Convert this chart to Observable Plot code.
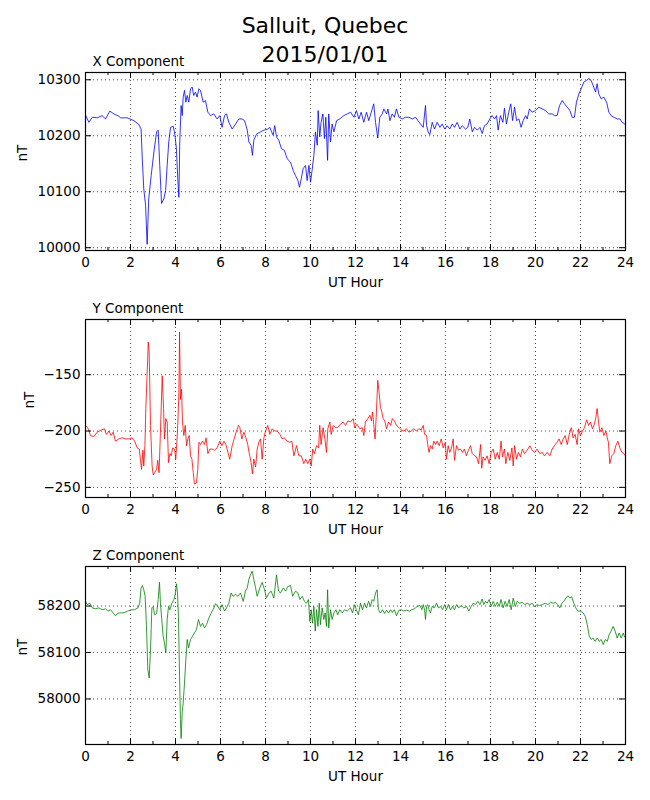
<!DOCTYPE html>
<html>
<head>
<meta charset="utf-8">
<script src="https://cdn.jsdelivr.net/npm/d3@7"></script>
<script src="https://cdn.jsdelivr.net/npm/@observablehq/plot@0.6"></script>
<style>
  html, body { margin: 0; padding: 0; background: #fff; }
  #page { position: relative; width: 650px; height: 800px; font-family: "DejaVu Sans", sans-serif; color: #000; }
  #title { position: absolute; left: 0; top: 11px; width: 650px; text-align: center; font-size: 22px; line-height: 29px; z-index: 5; }
  .panel { position: absolute; left: 0; }
</style>
</head>
<body>
<div id="page">
  <div class="panel" id="p1" style="top:52px"></div>
  <div class="panel" id="p2" style="top:299px"></div>
  <div class="panel" id="p3" style="top:546px"></div>
  <div id="title">Salluit, Quebec<br>2015/01/01</div>
</div>
<script>
// ---- tick labels ----
const hourTicks = [0, 2, 4, 6, 8, 10, 12, 14, 16, 18, 20, 22, 24];
const hourMinorTicks = [1, 3, 5, 7, 9, 11, 13, 15, 17, 19, 21, 23];
const xCompTicks = [10000, 10100, 10200, 10300];
const yCompTicks = [-250, -200, -150];
const zCompTicks = [58000, 58100, 58200];
const panelTitles = ["X Component", "Y Component", "Z Component"];

// ---- series: [UT hour, nT] ----
const xComponent = [
[0.00,10237],[0.15,10224],[0.30,10233],[0.52,10232],[0.74,10236],[0.89,10230],[1.08,10244],[1.26,10239],[1.48,10235],[1.56,10232],[1.85,10232],[2.15,10227],[2.37,10220],[2.47,10212],[2.52,10162],[2.59,10105],[2.67,10076],[2.74,10006],[2.81,10087],[2.92,10129],[3.04,10171],[3.16,10207],[3.23,10210],[3.30,10147],[3.38,10079],[3.48,10087],[3.56,10102],[3.63,10147],[3.70,10189],[3.78,10215],[3.90,10217],[3.97,10203],[4.04,10177],[4.10,10123],[4.15,10090],[4.19,10189],[4.25,10254],[4.30,10236],[4.34,10269],[4.40,10281],[4.46,10260],[4.52,10272],[4.59,10260],[4.67,10284],[4.74,10287],[4.81,10272],[4.89,10278],[4.96,10269],[5.04,10284],[5.11,10281],[5.23,10260],[5.33,10263],[5.44,10242],[5.56,10236],[5.70,10239],[5.85,10230],[5.97,10236],[6.07,10215],[6.18,10236],[6.27,10239],[6.37,10224],[6.52,10212],[6.67,10221],[6.81,10230],[6.96,10230],[7.07,10227],[7.19,10210],[7.26,10189],[7.36,10183],[7.42,10165],[7.48,10192],[7.60,10203],[7.78,10207],[7.93,10210],[8.10,10212],[8.19,10215],[8.27,10207],[8.34,10201],[8.41,10218],[8.49,10198],[8.59,10192],[8.71,10177],[8.84,10174],[8.96,10159],[9.11,10153],[9.23,10138],[9.33,10129],[9.44,10120],[9.51,10108],[9.59,10123],[9.67,10141],[9.78,10147],[9.85,10120],[9.93,10147],[10.00,10117],[10.07,10138],[10.15,10165],[10.22,10207],[10.30,10183],[10.34,10245],[10.41,10198],[10.47,10224],[10.55,10239],[10.62,10195],[10.68,10233],[10.76,10156],[10.81,10239],[10.89,10189],[10.96,10221],[11.04,10207],[11.16,10227],[11.30,10230],[11.48,10236],[11.63,10239],
[11.78,10242],[11.93,10233],[12.04,10245],[12.15,10230],[12.25,10242],[12.37,10224],[12.49,10242],[12.59,10227],[12.70,10242],[12.81,10257],[12.89,10224],[12.99,10196],[13.08,10233],[13.19,10239],[13.26,10248],[13.38,10239],[13.44,10248],[13.53,10227],[13.63,10239],[13.73,10233],[13.82,10248],[13.93,10233],[14.07,10230],[14.22,10233],[14.37,10233],[14.52,10230],[14.67,10233],[14.77,10227],[14.89,10221],[15.01,10215],[15.11,10254],[15.16,10218],[15.23,10207],[15.30,10202],[15.41,10224],[15.51,10212],[15.63,10224],[15.75,10215],[15.85,10221],[15.97,10212],[16.07,10218],[16.19,10212],[16.30,10221],[16.40,10215],[16.52,10224],[16.64,10212],[16.74,10218],[16.89,10212],[16.99,10215],[17.08,10230],[17.19,10207],[17.29,10215],[17.41,10210],[17.53,10215],[17.63,10204],[17.73,10218],[17.85,10221],[17.97,10230],[18.07,10236],[18.18,10230],[18.27,10236],[18.34,10210],[18.44,10236],[18.55,10224],[18.62,10249],[18.71,10221],[18.81,10242],[18.90,10257],[18.98,10227],[19.07,10251],[19.16,10227],[19.26,10230],[19.36,10215],[19.45,10227],[19.56,10236],[19.63,10230],[19.73,10248],[19.85,10242],[20.00,10245],[20.15,10251],[20.30,10248],[20.44,10245],[20.59,10239],[20.74,10239],[20.84,10236],[20.96,10236],[21.07,10254],[21.19,10263],[21.29,10257],[21.41,10251],[21.53,10245],[21.63,10233],[21.73,10233],[21.82,10260],[21.93,10275],[22.03,10284],[22.15,10296],[22.27,10299],[22.37,10302],[22.47,10299],[22.56,10290],[22.67,10278],[22.74,10293],[22.81,10275],[22.92,10266],[23.04,10269],[23.16,10260],[23.26,10242],[23.36,10236],[23.48,10233],[23.63,10230],[23.75,10230],[23.85,10224],[23.96,10221],[24.00,10221]
];

const yComponent = [
[0.00,-195],[0.10,-197],[0.22,-204],[0.37,-205],[0.52,-201],[0.70,-199],[0.84,-198],[0.93,-203],[1.04,-200],[1.14,-204],[1.23,-201],[1.33,-209],[1.48,-207],[1.63,-206],[1.78,-207],[1.93,-207],[2.07,-206],[2.18,-209],[2.30,-215],[2.39,-216],[2.44,-225],[2.49,-234],[2.55,-217],[2.59,-231],[2.64,-213],[2.68,-180],[2.73,-154],[2.79,-121],[2.83,-130],[2.89,-195],[2.96,-231],[3.01,-239],[3.07,-237],[3.16,-234],[3.21,-226],[3.27,-237],[3.33,-201],[3.41,-151],[3.47,-180],[3.51,-207],[3.57,-189],[3.63,-192],[3.69,-228],[3.75,-220],[3.81,-222],[3.87,-215],[3.96,-216],[4.01,-225],[4.06,-210],[4.10,-195],[4.15,-166],[4.18,-112],[4.22,-172],[4.27,-163],[4.31,-192],[4.37,-204],[4.43,-195],[4.49,-213],[4.55,-207],[4.61,-204],[4.67,-222],[4.73,-225],[4.79,-237],[4.84,-247],[4.93,-246],[4.99,-234],[5.04,-210],[5.11,-212],[5.20,-209],[5.29,-212],[5.36,-206],[5.44,-220],[5.53,-216],[5.63,-216],[5.73,-217],[5.85,-215],[5.97,-209],[6.06,-213],[6.15,-209],[6.24,-212],[6.33,-219],[6.41,-225],[6.52,-213],[6.62,-206],[6.71,-200],[6.80,-195],[6.86,-197],[6.95,-207],[7.04,-201],[7.13,-206],[7.21,-212],[7.27,-219],[7.36,-228],[7.42,-238],[7.48,-225],[7.56,-232],[7.63,-216],[7.72,-209],[7.78,-207],[7.85,-225],[7.93,-206],[8.00,-200],[8.10,-195],[8.19,-203],[8.30,-198],[8.40,-200],[8.52,-200],[8.64,-203],[8.74,-207],[8.84,-206],[8.96,-209],[9.08,-210],[9.17,-209],[9.26,-222],[9.38,-213],[9.48,-222],[9.59,-222],[9.70,-229],[9.79,-225],[9.88,-229],[9.97,-225],[10.03,-231],[10.10,-216],[10.18,-220],[10.27,-213],[10.36,-215],[10.41,-195],[10.47,-212],[10.56,-197],[10.64,-207],[10.71,-219],[10.77,-198],[10.86,-192],[10.92,-203],[11.01,-195],[11.11,-197],[11.21,-197],[11.33,-194],[11.45,-192],[11.56,-195],[11.66,-191],
[11.78,-192],[11.90,-189],[11.96,-197],[12.07,-194],[12.19,-198],[12.30,-197],[12.37,-204],[12.44,-192],[12.55,-189],[12.64,-186],[12.71,-191],[12.76,-183],[12.81,-194],[12.87,-207],[12.93,-183],[12.99,-155],[13.05,-166],[13.11,-179],[13.17,-183],[13.23,-189],[13.30,-191],[13.38,-198],[13.47,-192],[13.56,-195],[13.64,-189],[13.73,-191],[13.82,-195],[13.93,-197],[14.03,-199],[14.15,-200],[14.27,-198],[14.37,-201],[14.47,-200],[14.59,-198],[14.71,-200],[14.81,-198],[14.92,-199],[15.01,-195],[15.07,-203],[15.16,-204],[15.21,-212],[15.27,-219],[15.33,-213],[15.41,-216],[15.48,-209],[15.56,-212],[15.63,-209],[15.72,-213],[15.81,-207],[15.90,-215],[15.99,-210],[16.04,-225],[16.12,-213],[16.19,-219],[16.27,-215],[16.34,-207],[16.40,-226],[16.49,-213],[16.58,-217],[16.67,-216],[16.76,-219],[16.84,-216],[16.93,-222],[17.02,-217],[17.11,-213],[17.19,-220],[17.29,-222],[17.38,-223],[17.47,-229],[17.56,-212],[17.61,-233],[17.67,-223],[17.76,-226],[17.85,-222],[17.94,-229],[18.03,-219],[18.12,-216],[18.21,-225],[18.30,-219],[18.39,-225],[18.47,-209],[18.53,-223],[18.62,-216],[18.68,-229],[18.77,-219],[18.86,-226],[18.95,-215],[19.01,-231],[19.07,-213],[19.16,-225],[19.24,-219],[19.33,-223],[19.42,-216],[19.51,-220],[19.63,-217],[19.75,-213],[19.85,-217],[19.96,-219],[20.07,-216],[20.19,-220],[20.30,-219],[20.40,-222],[20.52,-219],[20.64,-222],[20.74,-216],[20.84,-213],[20.96,-210],[21.05,-207],[21.14,-212],[21.23,-207],[21.32,-204],[21.41,-212],[21.50,-203],[21.59,-197],[21.67,-206],[21.76,-203],[21.85,-212],[21.91,-198],[22.00,-204],[22.09,-200],[22.18,-197],[22.27,-190],[22.36,-195],[22.44,-192],[22.53,-198],[22.62,-194],[22.68,-188],[22.74,-180],[22.80,-192],[22.86,-201],[22.95,-197],[23.04,-204],[23.13,-200],[23.19,-206],[23.24,-210],[23.30,-229],[23.39,-222],[23.48,-220],[23.57,-213],[23.66,-209],[23.75,-215],[23.84,-219],[23.93,-220],[24.00,-222]
];

const zComponent = [
[0.00,58210],[0.07,58203],[0.19,58206],[0.30,58196],[0.44,58194],[0.59,58196],[0.74,58192],[0.89,58194],[0.99,58189],[1.11,58192],[1.23,58185],[1.33,58179],[1.44,58185],[1.59,58185],[1.73,58186],[1.88,58189],[2.03,58192],[2.18,58192],[2.33,58196],[2.41,58206],[2.47,58239],[2.53,58244],[2.59,58235],[2.65,58221],[2.71,58156],[2.77,58063],[2.83,58045],[2.89,58106],[2.95,58196],[3.01,58199],[3.07,58181],[3.16,58184],[3.23,58214],[3.29,58251],[3.33,58206],[3.39,58171],[3.45,58135],[3.51,58120],[3.57,58099],[3.63,58171],[3.69,58199],[3.75,58192],[3.84,58206],[3.93,58214],[4.00,58228],[4.04,58248],[4.09,58228],[4.13,58178],[4.18,58049],[4.22,57956],[4.25,57915],[4.30,57973],[4.34,57991],[4.40,58034],[4.46,58085],[4.52,58128],[4.58,58110],[4.67,58128],[4.76,58135],[4.84,58142],[4.93,58149],[5.02,58171],[5.11,58156],[5.20,58163],[5.29,58153],[5.38,58160],[5.48,58174],[5.59,58185],[5.67,58192],[5.78,58205],[5.88,58199],[5.97,58192],[6.07,58203],[6.18,58189],[6.27,58196],[6.37,58206],[6.47,58228],[6.56,58221],[6.67,58225],[6.77,58221],[6.89,58228],[7.01,58210],[7.11,58232],[7.19,58239],[7.26,58257],[7.33,58267],[7.41,58275],[7.48,58257],[7.56,58239],[7.63,58221],[7.75,58239],[7.85,58251],[7.96,58235],[8.04,58217],[8.15,58228],[8.25,58232],[8.37,58217],[8.49,58267],[8.58,58232],[8.67,58228],[8.79,58239],[8.89,58232],[8.99,58242],[9.11,58244],[9.21,58221],[9.33,58232],[9.44,58228],[9.53,58214],[9.63,58221],[9.73,58210],[9.82,58206],[9.91,58214],[9.97,58167],[10.03,58192],[10.09,58163],[10.15,58199],[10.21,58146],[10.27,58192],[10.33,58156],[10.39,58206],[10.44,58160],[10.52,58196],[10.59,58171],[10.65,58185],[10.71,58156],[10.76,58235],[10.81,58153],[10.89,58192],[10.96,58171],[11.04,58185],[11.13,58192],[11.21,58181],[11.30,58192],[11.41,58185],[11.51,58192],[11.63,58189],
[11.78,58196],[11.87,58185],[11.96,58203],[12.04,58192],[12.13,58181],[12.22,58206],[12.31,58192],[12.40,58206],[12.49,58196],[12.58,58210],[12.67,58199],[12.74,58214],[12.81,58210],[12.89,58228],[12.96,58235],[13.02,58192],[13.11,58185],[13.20,58192],[13.29,58184],[13.38,58191],[13.47,58185],[13.56,58192],[13.64,58186],[13.73,58192],[13.82,58179],[13.93,58191],[14.03,58192],[14.15,58189],[14.27,58191],[14.39,58189],[14.50,58192],[14.62,58194],[14.74,58199],[14.86,58201],[14.95,58192],[15.01,58203],[15.07,58192],[15.11,58171],[15.16,58199],[15.21,58203],[15.27,58192],[15.33,58185],[15.41,58199],[15.51,58196],[15.60,58206],[15.69,58196],[15.78,58199],[15.87,58192],[15.96,58203],[16.04,58192],[16.13,58203],[16.22,58192],[16.31,58199],[16.40,58192],[16.49,58203],[16.59,58196],[16.70,58201],[16.81,58196],[16.93,58199],[17.04,58189],[17.14,58199],[17.23,58206],[17.33,58203],[17.44,58210],[17.53,58203],[17.63,58215],[17.70,58203],[17.78,58210],[17.85,58206],[17.94,58214],[18.03,58199],[18.12,58210],[18.21,58199],[18.30,58208],[18.39,58199],[18.47,58214],[18.56,58196],[18.65,58210],[18.74,58199],[18.83,58214],[18.92,58192],[19.01,58217],[19.10,58199],[19.19,58210],[19.30,58206],[19.41,58208],[19.51,58203],[19.63,58206],[19.75,58203],[19.85,58206],[19.96,58199],[20.07,58203],[20.19,58201],[20.31,58203],[20.43,58206],[20.55,58203],[20.67,58208],[20.79,58206],[20.89,58208],[20.99,58203],[21.08,58196],[21.17,58206],[21.26,58210],[21.35,58217],[21.44,58222],[21.53,58217],[21.61,58220],[21.70,58206],[21.79,58196],[21.88,58189],[22.00,58189],[22.12,58185],[22.21,58178],[22.30,58160],[22.39,58135],[22.47,58128],[22.56,58131],[22.65,58124],[22.74,58131],[22.83,58124],[22.92,58128],[23.01,58117],[23.10,58128],[23.19,58124],[23.27,58138],[23.36,58146],[23.45,58156],[23.54,58146],[23.63,58131],[23.72,58142],[23.81,58131],[23.90,58142],[23.96,58133],[24.00,58135]
];

const minusFormat = d => (d < 0 ? "\u2212" + Math.abs(d) : String(d));
const FONT = "DejaVu Sans, sans-serif";

function panel({data, color, yDomain, yTicks, title, labelDx}) {
  const W = 650, H = 248, mL = 85, mR = 25, mT = 20, mB = 50;
  const innerW = W - mL - mR, innerH = H - mT - mB;
  return Plot.plot({
    width: W, height: H,
    marginLeft: mL, marginRight: mR, marginTop: mT, marginBottom: mB,
    style: {fontFamily: FONT, fontSize: "13.5px", overflow: "visible", background: "transparent", color: "black"},
    x: {domain: [0, 24]},
    y: {domain: yDomain},
    marks: [
      Plot.gridX(hourTicks.slice(1, -1), {stroke: "black", strokeOpacity: 1, strokeWidth: 0.7, strokeDasharray: "1,3"}),
      Plot.gridY(yTicks, {stroke: "black", strokeOpacity: 1, strokeWidth: 0.7, strokeDasharray: "1,3"}),
      Plot.line(data, {x: d => d[0], y: d => d[1], stroke: color, strokeWidth: 0.8, clip: true}),
      // inward tick marks on all four sides
      Plot.ruleX(hourTicks, {x: d => d, insetTop: innerH - 6, stroke: "black", strokeWidth: 1}),
      Plot.ruleX(hourTicks, {x: d => d, insetBottom: innerH - 6, stroke: "black", strokeWidth: 1}),
      Plot.ruleX(hourMinorTicks, {x: d => d, insetTop: innerH - 3, stroke: "black", strokeWidth: 1}),
      Plot.ruleX(hourMinorTicks, {x: d => d, insetBottom: innerH - 3, stroke: "black", strokeWidth: 1}),
      Plot.ruleY(yTicks, {y: d => d, insetRight: innerW - 6, stroke: "black", strokeWidth: 1}),
      Plot.ruleY(yTicks, {y: d => d, insetLeft: innerW - 6, stroke: "black", strokeWidth: 1}),
      Plot.frame({stroke: "black", strokeWidth: 1.2}),
      Plot.axisX(hourTicks, {tickSize: 0, tickPadding: 7, label: null, fontSize: 13.5, fill: "black"}),
      Plot.axisY(yTicks, {tickSize: 0, tickPadding: 5, label: null, tickFormat: minusFormat, fontSize: 13.5, fill: "black"}),
      Plot.text([title], {frameAnchor: "top-left", textAnchor: "start", lineAnchor: "bottom", dx: 7, dy: -7, fontSize: 13.5, fill: "black"}),
      Plot.text(["UT Hour"], {frameAnchor: "bottom", lineAnchor: "top", dy: 27, fontSize: 13.5, fill: "black"}),
      Plot.text(["nT"], {frameAnchor: "left", rotate: -90, dx: labelDx, fontSize: 13.5, fill: "black"})
    ]
  });
}

document.getElementById("p1").appendChild(panel({
  data: xComponent, color: "#0000ff", yDomain: [9995, 10313], yTicks: xCompTicks, title: panelTitles[0], labelDx: -63
}));
document.getElementById("p2").appendChild(panel({
  data: yComponent, color: "#ff0000", yDomain: [-259, -101], yTicks: yCompTicks, title: panelTitles[1], labelDx: -56
}));
document.getElementById("p3").appendChild(panel({
  data: zComponent, color: "#008000", yDomain: [57902, 58285], yTicks: zCompTicks, title: panelTitles[2], labelDx: -63
}));
</script>
</body>
</html>
